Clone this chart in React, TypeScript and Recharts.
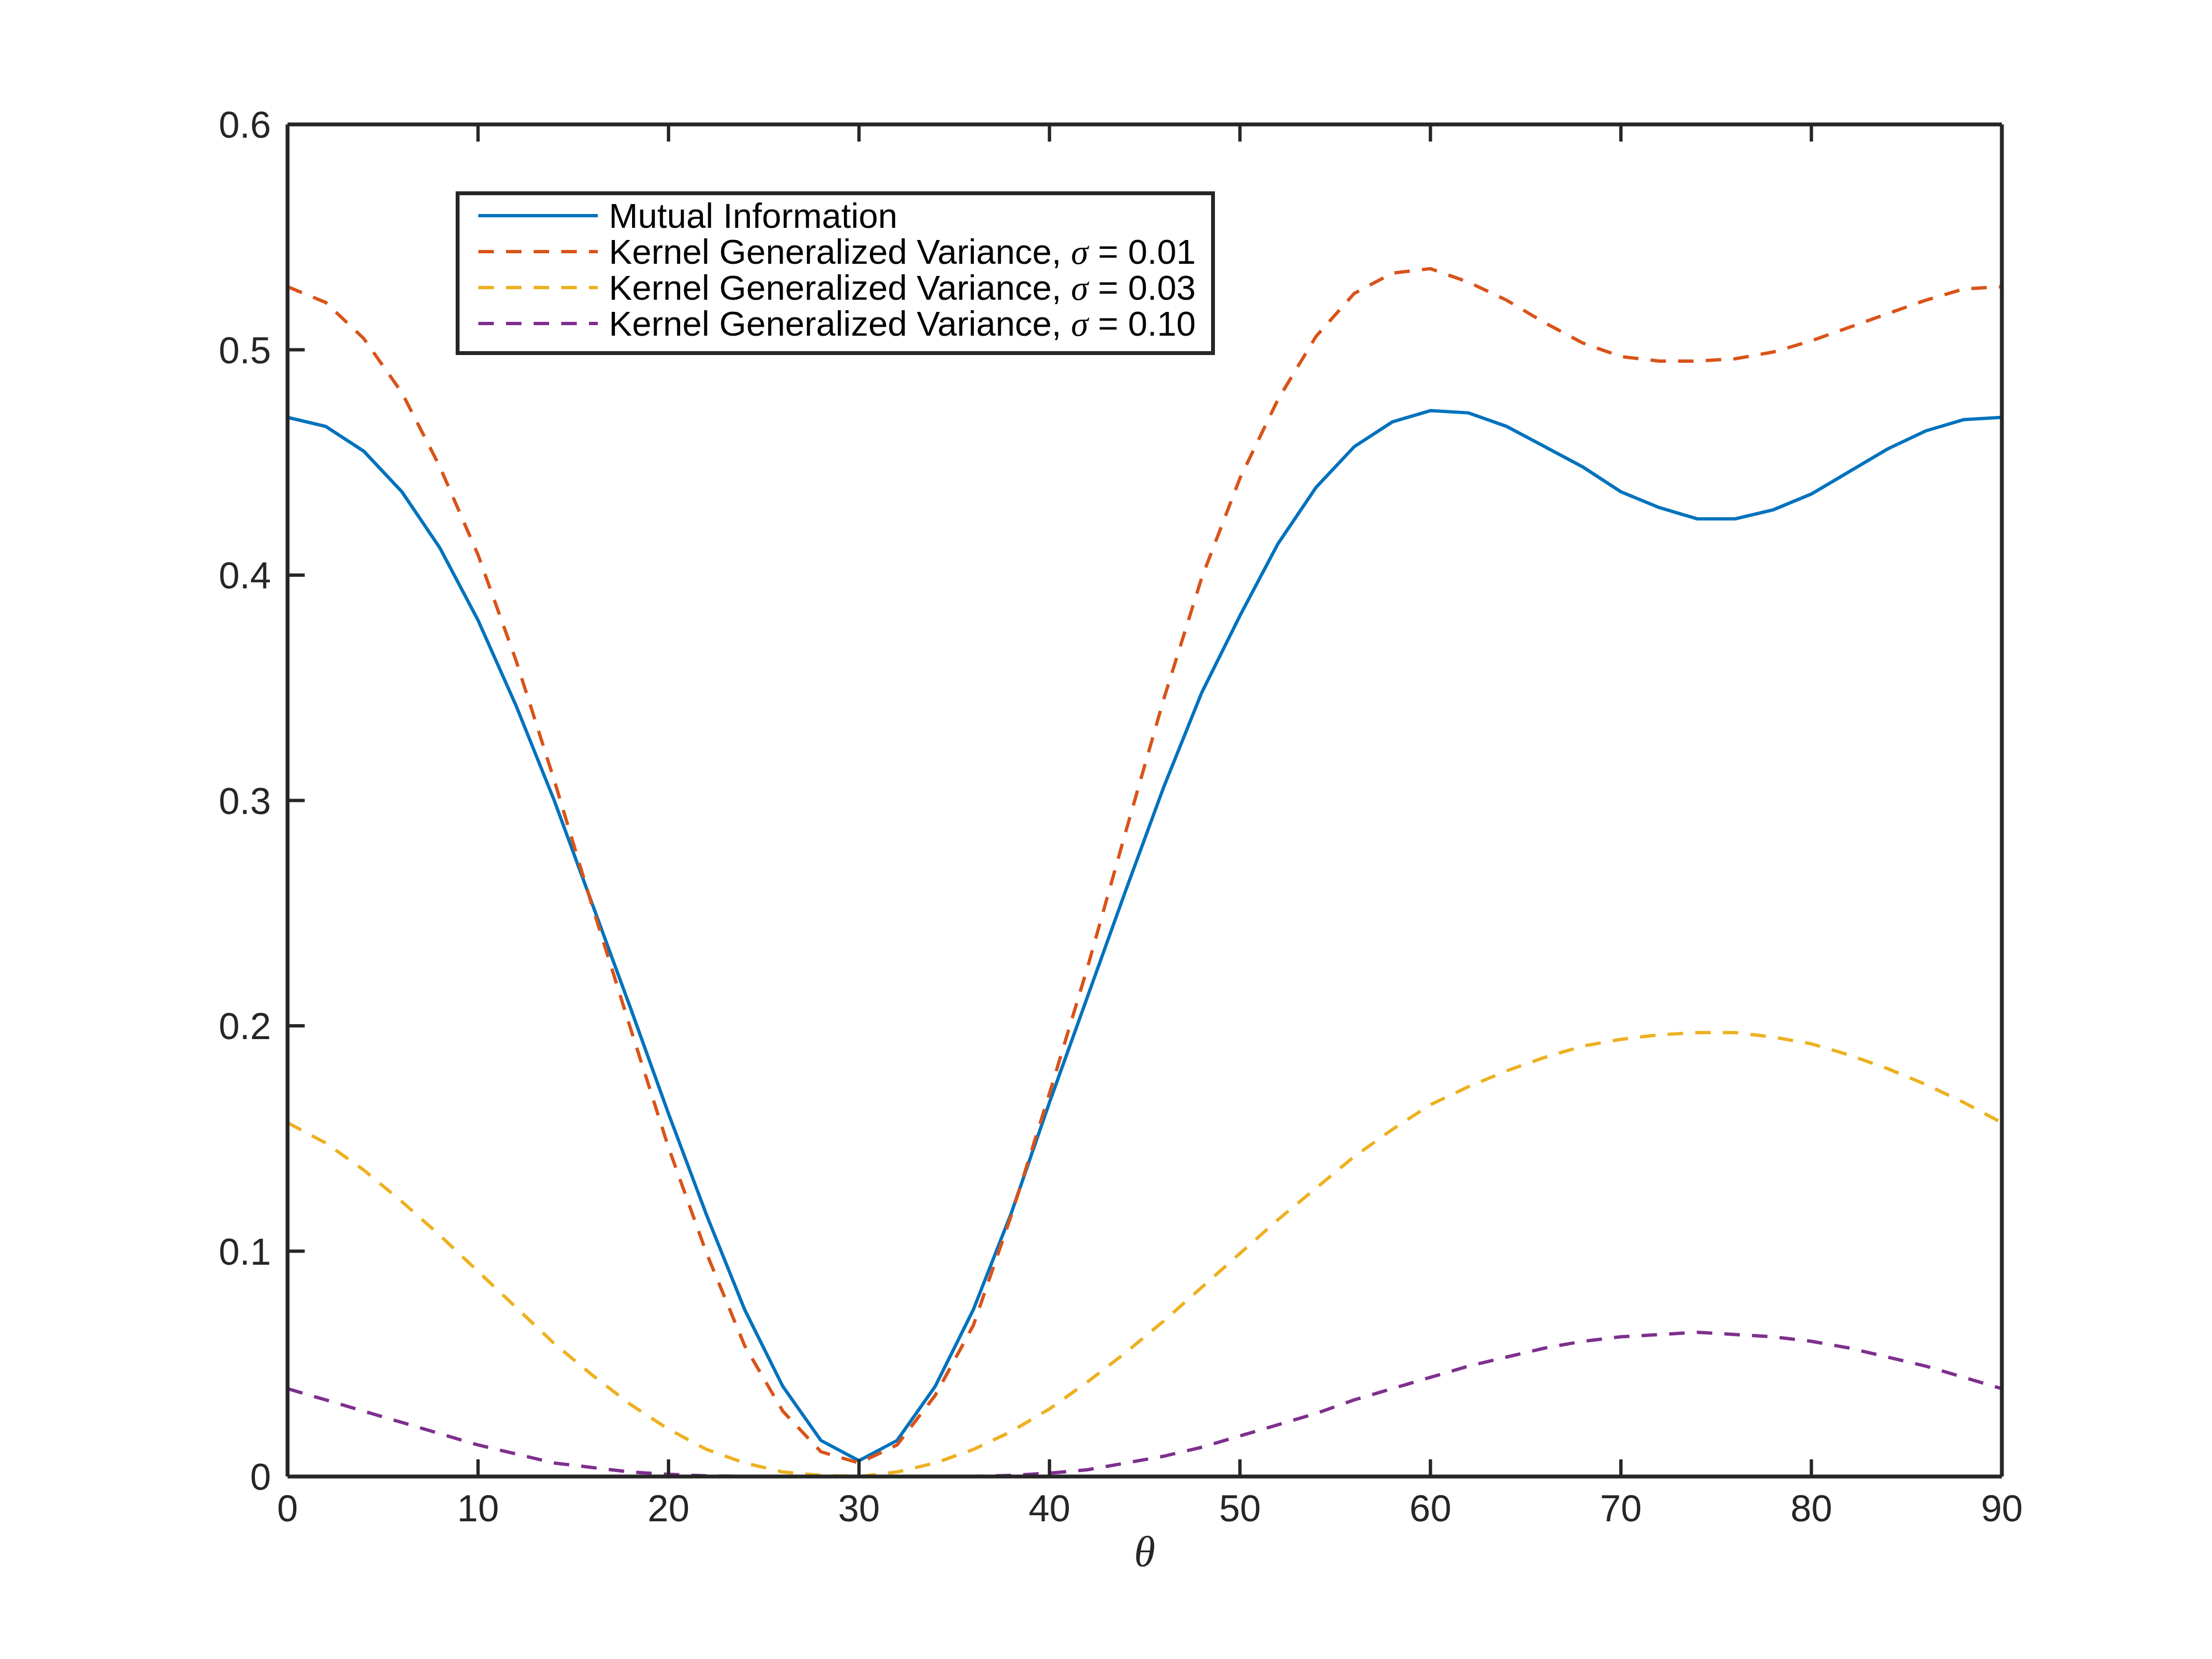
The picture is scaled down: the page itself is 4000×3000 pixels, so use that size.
import * as React from 'react'
import { LineChart, Line, XAxis, YAxis, Legend, Label } from 'recharts'

const theta = [0, 2, 4, 6, 8, 10, 12, 14, 16, 18, 20, 22, 24, 26, 28, 30, 32, 34, 36, 38, 40, 42, 44, 46, 48, 50, 52, 54, 56, 58, 60, 62, 64, 66, 68, 70, 72, 74, 76, 78, 80, 82, 84, 86, 88, 90]

const mutualInfo = [0.470, 0.466, 0.455, 0.437, 0.412, 0.380, 0.342, 0.300, 0.254, 0.208, 0.161, 0.116, 0.074, 0.040, 0.016, 0.007, 0.016, 0.040, 0.074, 0.117, 0.166, 0.213, 0.260, 0.306, 0.348, 0.382, 0.414, 0.439, 0.457, 0.468, 0.473, 0.472, 0.466, 0.457, 0.448, 0.437, 0.430, 0.425, 0.425, 0.429, 0.436, 0.446, 0.456, 0.464, 0.469, 0.470]
const kgv001 = [0.528, 0.521, 0.505, 0.481, 0.448, 0.409, 0.362, 0.309, 0.253, 0.199, 0.146, 0.099, 0.058, 0.029, 0.011, 0.006, 0.014, 0.036, 0.067, 0.116, 0.170, 0.226, 0.286, 0.345, 0.399, 0.443, 0.478, 0.506, 0.525, 0.534, 0.536, 0.530, 0.522, 0.512, 0.503, 0.497, 0.495, 0.495, 0.496, 0.499, 0.504, 0.510, 0.516, 0.522, 0.527, 0.528]
const kgv003 = [0.157, 0.148, 0.136, 0.122, 0.107, 0.091, 0.075, 0.059, 0.045, 0.032, 0.021, 0.012, 0.006, 0.002, 0.0005, 0.000, 0.002, 0.006, 0.012, 0.020, 0.030, 0.042, 0.055, 0.069, 0.084, 0.099, 0.114, 0.128, 0.142, 0.154, 0.165, 0.173, 0.180, 0.186, 0.191, 0.194, 0.196, 0.197, 0.197, 0.195, 0.192, 0.187, 0.181, 0.174, 0.166, 0.157]
const kgv010 = [0.039, 0.034, 0.029, 0.024, 0.019, 0.014, 0.010, 0.006, 0.004, 0.002, 0.001, 0.0003, 0, 0, 0, 0, 0, 0, 0, 0.0005, 0.0015, 0.003, 0.006, 0.009, 0.013, 0.018, 0.023, 0.028, 0.034, 0.039, 0.044, 0.049, 0.053, 0.057, 0.060, 0.062, 0.063, 0.064, 0.063, 0.062, 0.060, 0.057, 0.053, 0.049, 0.044, 0.039]

const xTicks = [0, 10, 20, 30, 40, 50, 60, 70, 80, 90]
const yTicks = [0, 0.1, 0.2, 0.3, 0.4, 0.5, 0.6]

const series = [
  { key: 'mi', name: 'Mutual Information', color: '#0072BD', dash: undefined },
  { key: 'k1', name: 'Kernel Generalized Variance, σ = 0.01', color: '#D95319', dash: '28 22' },
  { key: 'k3', name: 'Kernel Generalized Variance, σ = 0.03', color: '#EDB120', dash: '28 22' },
  { key: 'k10', name: 'Kernel Generalized Variance, σ = 0.10', color: '#7E2F8E', dash: '28 22' },
]

const data = theta.map((t, i) => ({
  theta: t,
  mi: mutualInfo[i],
  k1: kgv001[i],
  k3: kgv003[i],
  k10: kgv010[i],
}))

const AX = '#262626'
const FONT = '"Liberation Sans", Arial, Helvetica, sans-serif'
const SERIF = '"Liberation Serif", "DejaVu Serif", serif'
const TICK_LEN = 31
const TICK_W = 6
const TICK_FONT = 68

// tick marks point into the plot, like matlab's default box
const BottomTick = (props: any) => {
  const { x, y, payload } = props
  return (
    <g>
      <line x1={x} x2={x} y1={y} y2={y - TICK_LEN} stroke={AX} strokeWidth={TICK_W} />
      <text x={x} y={y + 33} dy="0.71em" textAnchor="middle" fontFamily={FONT} fontSize={TICK_FONT} fill={AX}>
        {String(payload.value)}
      </text>
    </g>
  )
}

const TopTick = (props: any) => {
  const { x, y } = props
  return <line x1={x} x2={x} y1={y} y2={y + TICK_LEN} stroke={AX} strokeWidth={TICK_W} />
}

const LeftTick = (props: any) => {
  const { x, y, payload } = props
  return (
    <g>
      <line x1={x} x2={x + TICK_LEN} y1={y} y2={y} stroke={AX} strokeWidth={TICK_W} />
      <text x={x - 30} y={y} dy="0.355em" textAnchor="end" fontFamily={FONT} fontSize={TICK_FONT} fill={AX}>
        {String(payload.value)}
      </text>
    </g>
  )
}

const RightTick = (props: any) => {
  const { x, y } = props
  return <line x1={x} x2={x - TICK_LEN} y1={y} y2={y} stroke={AX} strokeWidth={TICK_W} />
}

const LegendBox = () => {
  const w = 1373
  const h = 296
  return (
    <svg width={w} height={h} style={{ display: 'block' }}>
      <rect x={3.5} y={3.5} width={w - 7} height={h - 7} fill="#fff" stroke={AX} strokeWidth={7} />
      {series.map((s, i) => {
        const cy = 44 + i * 65
        const parts = s.name.split('σ')
        return (
          <g key={s.key}>
            <line x1={41} x2={257} y1={cy} y2={cy} stroke={s.color} strokeWidth={6} strokeDasharray={s.dash} />
            <text x={277} y={cy + 22} fontFamily={FONT} fontSize={63} fill="#000">
              {parts[0]}
              {parts.length > 1 && (
                <tspan fontFamily={SERIF} fontStyle="italic">σ</tspan>
              )}
              {parts.length > 1 && parts[1]}
            </text>
          </g>
        )
      })}
    </svg>
  )
}

const ThetaLabel = (props: any) => {
  const vb = props.viewBox || {}
  return (
    <text
      x={vb.x + vb.width / 2}
      y={vb.y + 162}
      textAnchor="middle"
      fontFamily={SERIF}
      fontStyle="italic"
      fontSize={78}
      fill={AX}
    >
      θ
    </text>
  )
}

export default function App() {
  const axisLine = { stroke: AX, strokeWidth: 7 }
  return (
    <div style={{ position: 'absolute', left: 0, top: 0, width: 4000, height: 3000, background: '#fff' }}>
      <LineChart
        width={4000}
        height={3000}
        data={data}
        margin={{ top: 224, right: 379, bottom: 329, left: 519 }}
      >
        <XAxis
          xAxisId="b"
          dataKey="theta"
          type="number"
          domain={[0, 90]}
          ticks={xTicks}
          height={1}
          axisLine={axisLine}
          tickLine={false}
          tickSize={0}
          tickMargin={0}
          tick={<BottomTick />}
          interval={0}
        >
          <Label content={ThetaLabel} />
        </XAxis>
        <XAxis
          xAxisId="t"
          orientation="top"
          dataKey="theta"
          type="number"
          domain={[0, 90]}
          ticks={xTicks}
          height={1}
          axisLine={axisLine}
          tickLine={false}
          tickSize={0}
          tickMargin={0}
          tick={<TopTick />}
          interval={0}
        />
        <YAxis
          yAxisId="l"
          type="number"
          domain={[0, 0.6]}
          ticks={yTicks}
          width={1}
          axisLine={axisLine}
          tickLine={false}
          tickSize={0}
          tickMargin={0}
          tick={<LeftTick />}
          interval={0}
        />
        <YAxis
          yAxisId="r"
          orientation="right"
          type="number"
          domain={[0, 0.6]}
          ticks={yTicks}
          width={1}
          axisLine={axisLine}
          tickLine={false}
          tickSize={0}
          tickMargin={0}
          tick={<RightTick />}
          interval={0}
        />
        {series.map((s) => (
          <Line
            key={s.key}
            xAxisId="b"
            yAxisId="l"
            type="linear"
            dataKey={s.key}
            name={s.name}
            stroke={s.color}
            strokeWidth={6}
            strokeDasharray={s.dash}
            dot={false}
            activeDot={false}
            isAnimationActive={false}
          />
        ))}
        <Legend
          layout="horizontal"
          verticalAlign="middle"
          align="center"
          wrapperStyle={{ left: 824, top: 346, width: 1373, height: 296 }}
          content={() => <LegendBox />}
        />
      </LineChart>
    </div>
  )
}
